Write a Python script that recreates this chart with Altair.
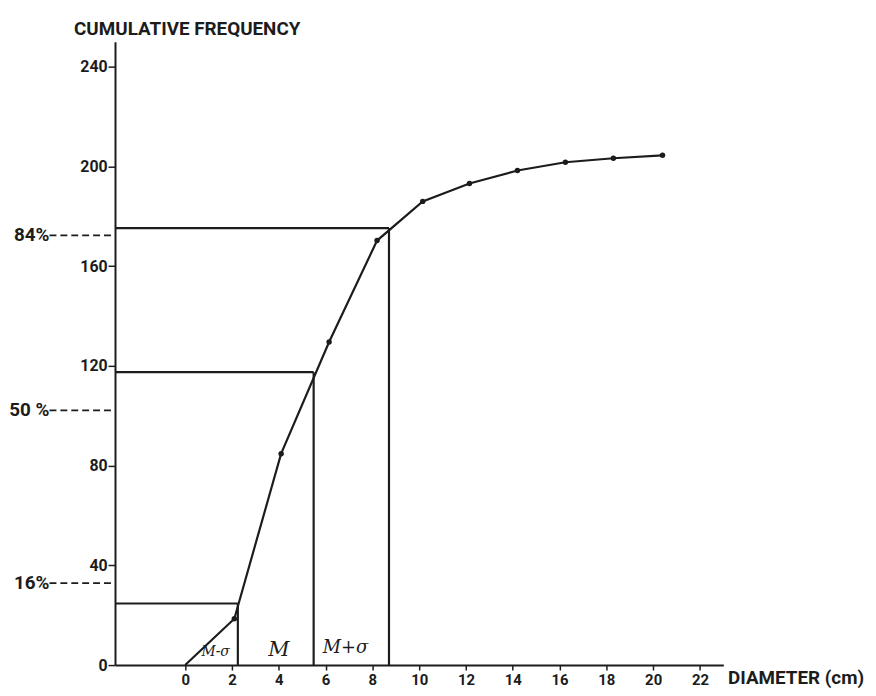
import altair as alt
import pandas as pd

# --- data ---
diameter = [0, 2.1, 4.1, 6.15, 8.2, 10.15, 12.15, 14.2, 16.25, 18.3, 20.4]
cum_freq = [0, 18.6, 84.8, 129.6, 170.3, 186.0, 193.2, 198.4, 201.7, 203.3, 204.5]

# reference construction lines (horizontal level, vertical drop position)
ref_level = [24.7, 117.5, 175.3]
ref_x = [2.25, 5.49, 8.71]

# percentage markers left of the axis
pct_level = [32.9, 102.2, 172.4]
pct_label = ["16%", "50 %", "84%"]

# band labels at the bottom
band_label = ["M-σ", "M", "M+σ"]
band_x = [1.3, 4.0, 6.85]
band_y = [5.4, 6.0, 7.0]
band_size = [14, 21, 18]

x_ticks = list(range(0, 23, 2))
y_ticks = list(range(0, 241, 40))

X_MIN, X_MAX = -3, 23
Y_MIN, Y_MAX = 0, 250
INK = "#1c1c1c"
FONT = "Roboto"

xs = alt.Scale(domain=[X_MIN, X_MAX], nice=False, zero=False)
ys = alt.Scale(domain=[Y_MIN, Y_MAX], nice=False)

curve = pd.DataFrame({"x": diameter, "y": cum_freq})
refs = pd.DataFrame({"lvl": ref_level, "xr": ref_x, "x0": [X_MIN] * 3, "y0": [0] * 3})
pcts = pd.DataFrame({"lvl": pct_level, "lab": pct_label,
                     "xa": [-5.8] * 3, "xb": [-3.15] * 3})
bands = pd.DataFrame({"lab": band_label, "x": band_x, "y": band_y, "s": band_size})
titles = pd.DataFrame({"lab": ["CUMULATIVE FREQUENCY"], "x": [-4.75], "y": [252.6]})
xtitle = pd.DataFrame({"lab": ["DIAMETER (cm)"], "x": [23.2], "y": [-5.4]})

x_axis = alt.Axis(values=x_ticks, title=None, grid=False, tickSize=5, labelPadding=3,
                  domainColor=INK, domainWidth=2, tickColor=INK, tickWidth=1.5,
                  labelColor=INK, labelFont=FONT, labelFontSize=15, labelFontWeight="bold",
                  labelFlush=False)
y_axis = alt.Axis(values=y_ticks, title=None, grid=False, tickSize=7, labelPadding=1,
                  domainColor=INK, domainWidth=2, tickColor=INK, tickWidth=1.5,
                  labelColor=INK, labelFont=FONT, labelFontSize=16, labelFontWeight="bold",
                  labelFlush=False)

base_line = alt.Chart(curve).mark_line(color=INK, strokeWidth=2.2).encode(
    x=alt.X("x:Q", scale=xs, axis=x_axis),
    y=alt.Y("y:Q", scale=ys, axis=y_axis),
)
points = alt.Chart(curve).transform_filter("datum.x > 0").mark_circle(
    color=INK, size=30, opacity=1).encode(
    x=alt.X("x:Q", scale=xs), y=alt.Y("y:Q", scale=ys))

hlines = alt.Chart(refs).mark_rule(color=INK, strokeWidth=2.2).encode(
    x=alt.X("x0:Q", scale=xs), x2="xr:Q", y=alt.Y("lvl:Q", scale=ys))
vlines = alt.Chart(refs).mark_rule(color=INK, strokeWidth=2.2).encode(
    x=alt.X("xr:Q", scale=xs), y=alt.Y("y0:Q", scale=ys), y2="lvl:Q")

dashes = alt.Chart(pcts).mark_rule(color=INK, strokeWidth=1.8, strokeDash=[7, 4]).encode(
    x=alt.X("xa:Q", scale=xs), x2="xb:Q", y=alt.Y("lvl:Q", scale=ys))
pct_text = alt.Chart(pcts).mark_text(
    align="right", baseline="middle", dx=0, font=FONT, fontSize=19,
    fontWeight="bold", color=INK).encode(
    x=alt.X("xa:Q", scale=xs), y=alt.Y("lvl:Q", scale=ys), text="lab:N")

band_text = alt.Chart(bands).mark_text(
    align="center", baseline="middle", font="DejaVu Serif", fontStyle="italic",
    color=INK).encode(
    x=alt.X("x:Q", scale=xs), y=alt.Y("y:Q", scale=ys), text="lab:N",
    size=alt.Size("s:Q", scale=None, legend=None))

title_text = alt.Chart(titles).mark_text(
    align="left", baseline="alphabetic", font=FONT, fontSize=19, fontWeight="bold",
    color=INK).encode(x=alt.X("x:Q", scale=xs), y=alt.Y("y:Q", scale=ys), text="lab:N")

xtitle_text = alt.Chart(xtitle).mark_text(
    align="left", baseline="middle", font=FONT, fontSize=19, fontWeight="bold",
    color=INK).encode(x=alt.X("x:Q", scale=xs), y=alt.Y("y:Q", scale=ys), text="lab:N")

chart = alt.layer(
    hlines, vlines, base_line, points, dashes, pct_text, band_text, title_text, xtitle_text
).properties(
    width=614, height=629,
    autosize=alt.AutoSizeParams(type="none"),
    padding={"left": 108, "top": 31, "right": 146, "bottom": 25},
    background="white",
).configure_view(stroke=None)

chart.save("out.html", embed_options={"renderer": "svg", "actions": False})
